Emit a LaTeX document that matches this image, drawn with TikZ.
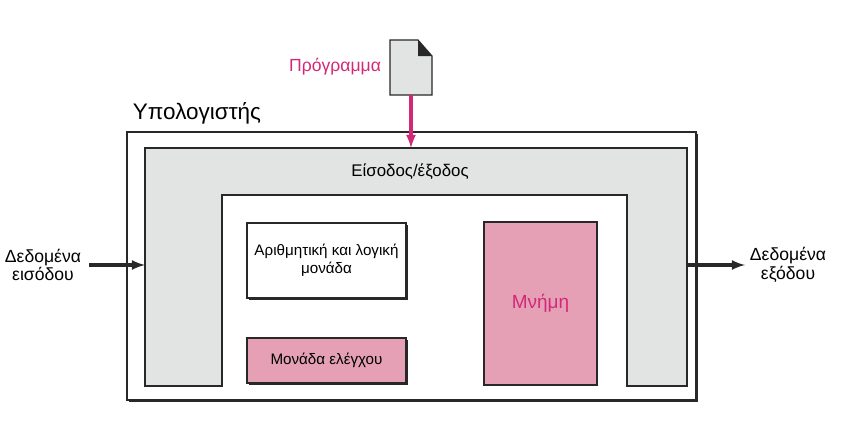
\documentclass[tikz,border=0pt]{standalone}
\usepackage{fontspec}
\setmainfont{Liberation Sans}
\usetikzlibrary{positioning}
\definecolor{rose}{RGB}{229, 160, 182}
\definecolor{magenta}{RGB}{210, 40, 120}
\definecolor{panel}{RGB}{226, 227, 227}
\definecolor{edge}{RGB}{40, 40, 40}
\tikzset{
  unit/.style={draw=edge, line width=0.9pt, inner sep=0pt, align=center,
    font=\fontsize{10.8}{13}\selectfont},
  shadowed/.style={preaction={fill=edge, transform canvas={shift={(1.5pt,-1.5pt)}}}},
  label text/.style={font=\fontsize{12.5}{13}\selectfont, align=center},
  flow/.style={-latex, line width=2.2pt, edge}
}
\begin{document}
\begin{tikzpicture}[x=0.025cm, y=-0.025cm]
  \useasboundingbox (0,0) rectangle (847,447);

  % computer frame
  \draw[edge, line width=1.3pt, shadowed, fill=white] (127,132) rectangle (696,400);
  \node[anchor=base west, font=\fontsize{16}{18}\selectfont] (computer) at (128,119) {Υπολογιστής};

  % input/output panel
  \draw[edge, line width=0.8pt, fill=panel] (145,148) -- (687,148) -- (687,386) -- (627,386)
    -- (627,195) -- (222,195) -- (222,386) -- (145,386) -- cycle;
  \node[font=\fontsize{12}{13}\selectfont] (io) at (410,172) {Είσοδος/έξοδος};
  \coordinate (ioleft) at (145,265);
  \coordinate (ioright) at (687,265);
  \coordinate (iotop) at (411,148);

  % units
  \node[unit, shadowed, fill=white, minimum width=159*0.025cm, minimum height=75*0.025cm]
    (alu) at (326.5,260.5) {Αριθμητική και λογική\\μονάδα};
  \node[unit, shadowed, fill=rose, minimum width=159*0.025cm, minimum height=45*0.025cm]
    (control) at (326.5,360.5) {Μονάδα ελέγχου};
  \node[unit, fill=rose, text=magenta, font=\fontsize{13.5}{15}\selectfont,
    minimum width=113*0.025cm, minimum height=163*0.025cm]
    (memory) at (540.5,303.5) {Μνήμη};

  % program file
  \draw[edge, line width=0.8pt, fill=panel] (390,40) -- (418,40) -- (432,56) -- (432,95)
    -- (390,95) -- cycle;
  \fill[edge] (418,40) -- (432,56) -- (418,56) -- cycle;
  \coordinate (file) at (411,95);
  \node[label text, text=magenta, anchor=east] (program) at (386,67) {Πρόγραμμα};
  \draw[-latex, line width=2.2pt, magenta] (file) -- (iotop);

  % data in and out
  \node[label text] (datain) at (43,265) {Δεδομένα\\εισόδου};
  \node[label text, anchor=west] (dataout) at (745,265) {Δεδομένα\\εξόδου};
  \draw[flow] (datain.east) ++(3,0) coordinate (inend) (inend) -- (ioleft);
  \draw[flow] (ioright) -- (dataout.west);
\end{tikzpicture}
\end{document}
